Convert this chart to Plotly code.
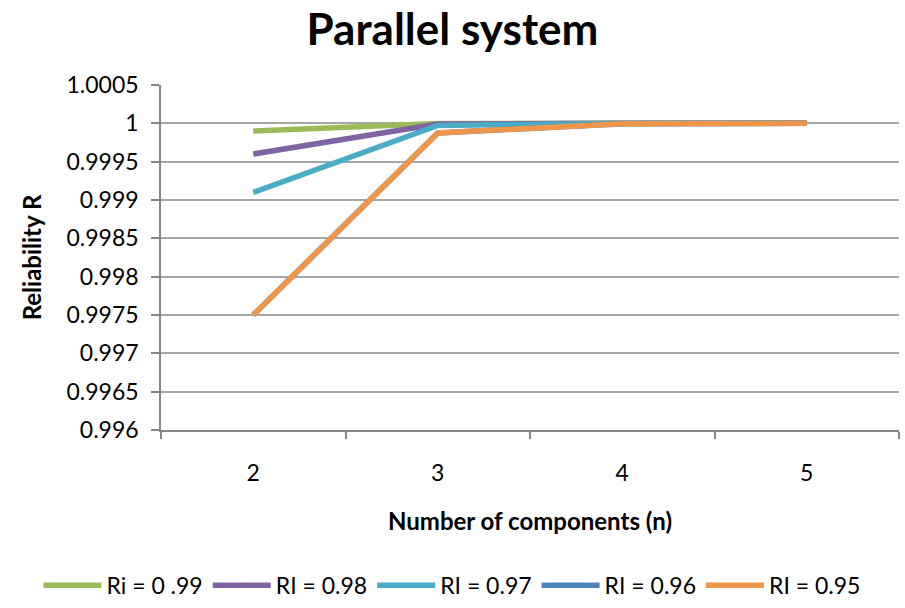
import plotly.graph_objects as go

categories = ["2", "3", "4", "5"]
names = ["Ri = 0 .99", "RI = 0.98", "RI = 0.97", "RI = 0.96", "RI = 0.95"]
r099 = [0.9999, 0.999999, 1.0, 1.0]
r098 = [0.9996, 0.999992, 1.0, 1.0]
r097 = [0.9991, 0.999973, 0.999999, 1.0]
r096 = [0.9975, 0.999875, 0.999994, 1.0]
r095 = [0.9975, 0.999875, 0.999994, 1.0]
series = [r099, r098, r097, r096, r095]
colors = ["#9BBB59", "#8064A2", "#4BACC6", "#4F81BD", "#F0964A"]

ytickvals = [0.996, 0.9965, 0.997, 0.9975, 0.998, 0.9985, 0.999, 0.9995, 1.0, 1.0005]
yticktext = ["0.996", "0.9965", "0.997", "0.9975", "0.998", "0.9985", "0.999", "0.9995", "1", "1.0005"]

FONT = "Lato"

fig = go.Figure()
for name, vals, col in zip(names, series, colors):
    fig.add_trace(go.Scatter(x=categories, y=vals, name=name, mode="lines",
                             line=dict(color=col, width=5.5)))

fig.update_layout(
    width=905, height=608,
    paper_bgcolor="white", plot_bgcolor="white",
    margin=dict(l=161, r=6, t=85, b=178, autoexpand=False),
    font=dict(family=FONT, color="black"),
    title=dict(text="<b>Parallel system</b>", x=0.5, xanchor="center",
               y=0.952, yanchor="middle", font=dict(size=44, family=FONT, color="black")),
    showlegend=True,
    legend=dict(orientation="h", x=-0.166, xanchor="left",
                y=-0.45, yanchor="middle",
                font=dict(size=23, family=FONT), itemwidth=58, tracegroupgap=0),
)
fig.update_xaxes(type="category", range=[-0.5, 3.5], tickson="boundaries",
                 ticks="outside", ticklen=7, tickcolor="#868686", tickwidth=1.5,
                 showline=True, linecolor="#868686", linewidth=1.5, showgrid=False,
                 tickfont=dict(size=23, family=FONT), ticklabelstandoff=22,
                 title=dict(text="<b>Number of components (n)</b>", font=dict(size=24, family=FONT),
                            standoff=28))
fig.update_yaxes(range=[0.996, 1.0005], tickvals=ytickvals, ticktext=yticktext,
                 ticks="outside", ticklen=8, tickcolor="#868686", tickwidth=1.5,
                 showline=True, linecolor="#868686", linewidth=1.5,
                 showgrid=True, gridcolor="#A6A6A6", gridwidth=1.5, zeroline=False,
                 tickfont=dict(size=23, family=FONT), ticklabelstandoff=8,
                 title=dict(text="<b>Reliability R</b>", font=dict(size=24, family=FONT),
                            standoff=18))

fig.write_html("out.html")
